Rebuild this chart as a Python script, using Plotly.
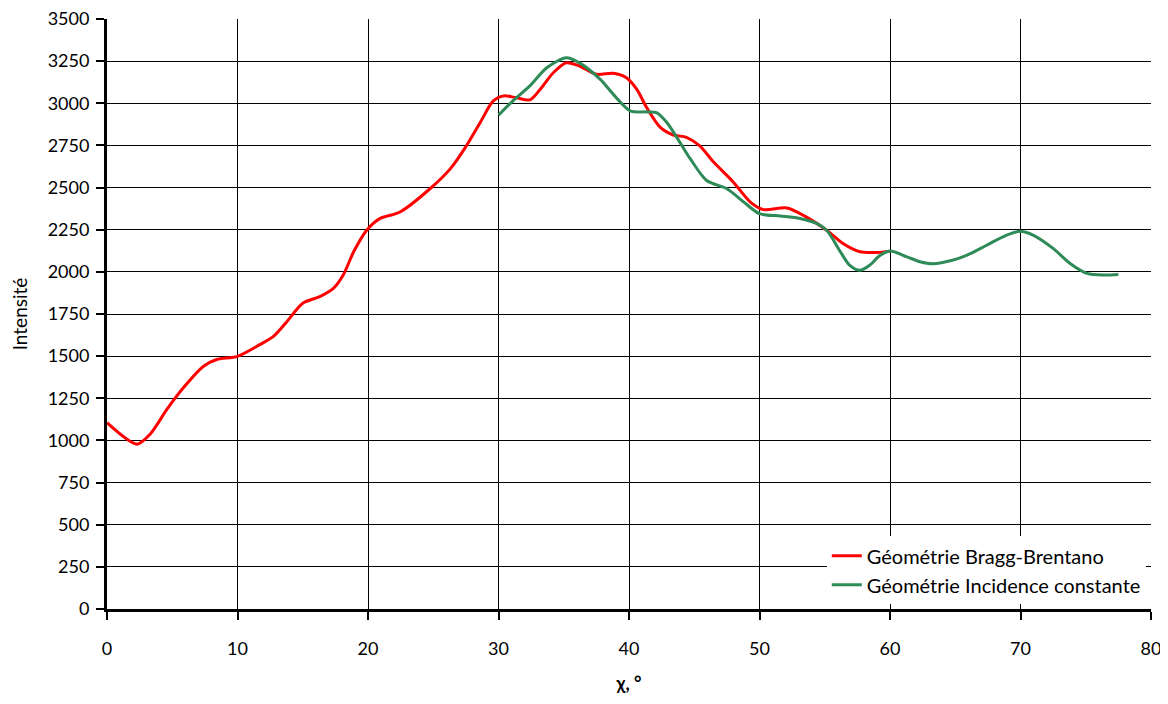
import plotly.graph_objects as go

# Géométrie Bragg-Brentano
bb_x = [0, 2.3, 3.3, 4.6, 5.85, 7.4, 8.4, 10, 11.7, 12.75, 13.8, 15.0, 16.3, 17.35,
        18.1, 18.9, 19.9, 20.9, 22.45, 24.75, 26.3, 27.55, 28.6, 29.6, 30.4, 31.3,
        32.4, 33.2, 34.2, 35.2, 36.2, 37.5, 38.8, 39.8, 40.6, 41.35, 42.4, 43.4,
        44.4, 45.4, 46.5, 48.0, 49.3, 50.3, 52.1, 53.6, 55.15, 56.4, 57.7, 59.0, 60.0]
bb_y = [1105, 978, 1037, 1185, 1312, 1440, 1480, 1499, 1568, 1617, 1706, 1814, 1853, 1902,
        1981, 2119, 2247, 2316, 2355, 2493, 2611, 2749, 2886, 3014, 3044, 3034,
        3020, 3083, 3181, 3240, 3221, 3172, 3178, 3152, 3083, 2975, 2857, 2812,
        2798, 2749, 2650, 2532, 2414, 2369, 2379, 2325, 2247, 2168, 2119, 2115, 2123]

# Géométrie Incidence constante
ic_x = [30.0, 31.1, 32.4, 33.7, 35.2, 36.2, 37.8, 38.8, 40.1, 41.35, 42.1, 42.9, 43.9,
        44.7, 45.95, 47.5, 48.8, 50.0, 51.6, 53.1, 54.4, 55.15, 56.2, 56.9, 57.7,
        58.45, 59.2, 60.0, 61.3, 62.3, 63.3, 64.85, 65.9, 67.4, 68.9, 69.95, 71.0,
        72.5, 73.8, 75.1, 76.35, 77.5]
ic_y = [2929, 3014, 3103, 3211, 3270, 3240, 3142, 3053, 2955, 2949, 2945, 2886, 2768,
        2670, 2542, 2493, 2414, 2345, 2331, 2316, 2286, 2247, 2119, 2040, 2009,
        2040, 2095, 2123, 2089, 2060, 2048, 2070, 2099, 2158, 2217, 2241, 2217,
        2139, 2050, 1991, 1981, 1985]

font = "Lato, 'Open Sans', sans-serif"

fig = go.Figure()
fig.add_trace(go.Scatter(x=bb_x, y=bb_y, mode="lines", name="Géométrie Bragg-Brentano",
                         line=dict(color="#ff0000", width=3, shape="spline", smoothing=0.8)))
fig.add_trace(go.Scatter(x=ic_x, y=ic_y, mode="lines", name="Géométrie Incidence constante",
                         line=dict(color="#2e8b57", width=3, shape="spline", smoothing=0.8)))

# page body adds an 8px offset, so the figure is sized to fit the window
fig.update_layout(
    width=1160, height=696,
    margin=dict(l=99, r=17, t=11, b=95),
    plot_bgcolor="white", paper_bgcolor="white",
    font=dict(family=font, size=18, color="black"),
    legend=dict(x=0.995, y=0.008, xanchor="right", yanchor="bottom",
                bgcolor="white", borderwidth=0,
                font=dict(size=20), tracegroupgap=0, itemwidth=30),
    showlegend=True,
)
fig.update_xaxes(
    range=[0, 80], dtick=10, showgrid=True, gridcolor="black", gridwidth=1,
    showline=True, linecolor="black", linewidth=3, zeroline=False,
    ticks="outside", ticklen=8, tickwidth=2, tickcolor="black", automargin=False,
    ticklabelstandoff=13, ticklabeloverflow="allow",
    title=dict(text="<b>χ, °</b>", font=dict(size=18), standoff=20),
)
fig.update_yaxes(
    range=[0, 3500], dtick=250, showgrid=True, gridcolor="black", gridwidth=1,
    showline=True, linecolor="black", linewidth=3, zeroline=False,
    ticks="outside", ticklen=8, tickwidth=2, tickcolor="black", automargin=False,
    ticklabelstandoff=3, ticklabeloverflow="allow",
    title=dict(text="Intensité", font=dict(size=19), standoff=24),
)

fig.write_html("out.html")
